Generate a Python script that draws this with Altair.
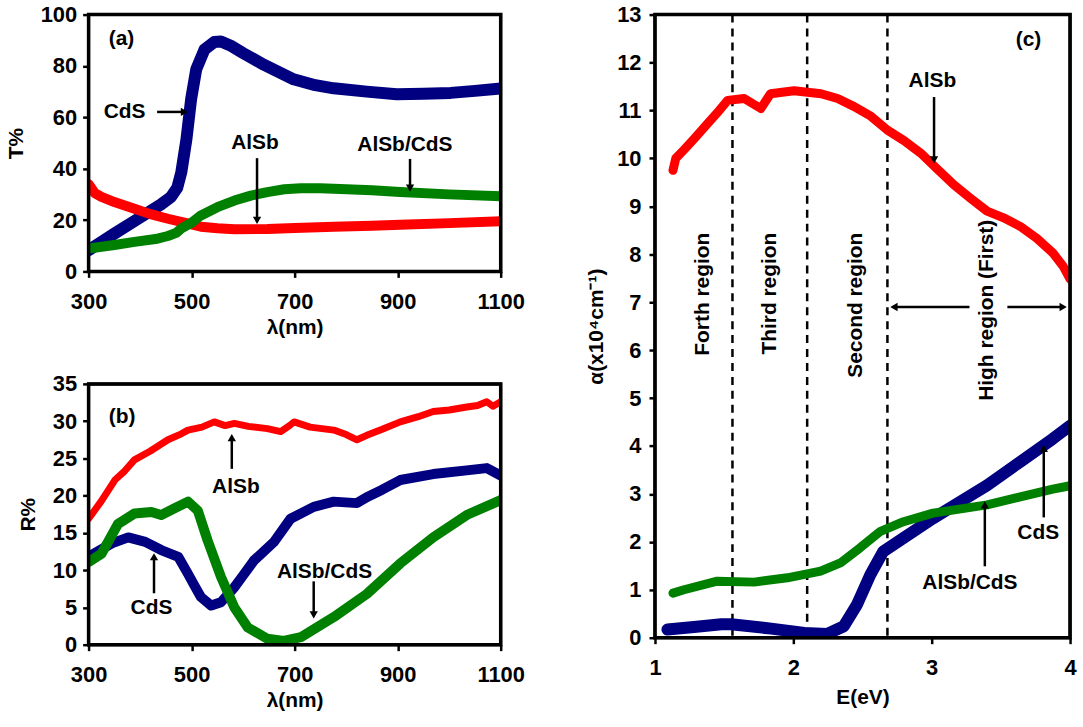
import altair as alt
import pandas as pd

FONT = "Liberation Sans"
BLUE = "#000080"
RED = "#FF0000"
GREEN = "#008000"

# ---------------- panel (a): transmittance T% vs wavelength ----------------
a_cds_lam = [300, 350, 400, 440, 460, 472, 480, 490, 499, 509, 525, 544, 557, 575, 600, 640, 698, 740, 776, 840, 898, 950, 1003, 1050, 1100]
a_cds_T = [8.3, 14.7, 21.0, 26.0, 29.0, 32.5, 38.6, 51.5, 67.0, 78.7, 86.4, 89.3, 89.5, 88.0, 85.0, 80.5, 74.8, 72.5, 71.3, 70.0, 69.0, 69.2, 69.5, 70.3, 71.2]

a_alsb_lam = [300, 312, 325, 350, 389, 420, 454, 490, 518, 550, 583, 647, 700, 776, 850, 905, 1000, 1100]
a_alsb_T = [34.0, 30.5, 29.0, 27.0, 24.4, 22.3, 20.5, 18.8, 17.4, 16.8, 16.4, 16.5, 16.9, 17.4, 17.8, 18.2, 18.8, 19.5]

a_mix_lam = [300, 350, 389, 430, 454, 470, 480, 500, 518, 550, 583, 615, 647, 680, 712, 750, 776, 850, 905, 1000, 1100]
a_mix_T = [8.9, 10.3, 11.5, 12.6, 13.8, 15.0, 16.7, 19.0, 21.8, 25.0, 27.6, 29.5, 30.9, 32.0, 32.4, 32.4, 32.2, 31.6, 30.9, 30.0, 29.3]

a_text_x = [364, 370, 623, 914]
a_text_y = [90.3, 62.1, 50.0, 49.3]
a_text = ["(a)", "CdS", "AlSb", "AlSb/CdS"]
a_arrow_x = [433, 627, 924]
a_arrow_y = [62.1, 44.1, 43.8]
a_arrow_x2 = [486, 627, 924]
a_arrow_y2 = [62.1, 19.9, 32.4]
a_arrow_head = ["triangle-right", "triangle-down", "triangle-down"]

# ---------------- panel (b): reflectance R% vs wavelength ----------------
b_alsb_lam = [300, 325, 351, 370, 389, 420, 454, 480, 493, 520, 544, 565, 583, 610, 647, 673, 690, 699, 730, 776, 800, 821, 840, 870, 905, 940, 969, 1000, 1034, 1055, 1073, 1085, 1100]
b_alsb_R = [16.9, 19.3, 22.1, 23.3, 24.8, 26.0, 27.5, 28.3, 28.8, 29.2, 29.9, 29.4, 29.7, 29.3, 29.0, 28.6, 29.4, 29.9, 29.2, 28.8, 28.2, 27.5, 28.1, 28.9, 29.9, 30.6, 31.3, 31.5, 31.9, 32.1, 32.6, 32.0, 32.6]

b_cds_lam = [300, 345, 377, 410, 441, 474, 493, 505, 518, 538, 557, 583, 600, 621, 660, 692, 737, 776, 821, 840, 870, 905, 969, 1034, 1073, 1100]
b_cds_R = [11.8, 13.6, 14.4, 13.8, 12.7, 11.8, 9.5, 8.0, 6.4, 5.25, 5.7, 7.7, 9.3, 11.3, 13.8, 16.9, 18.5, 19.2, 19.0, 19.8, 20.8, 22.1, 22.9, 23.4, 23.7, 22.7]

b_mix_lam = [300, 325, 357, 389, 422, 441, 467, 493, 512, 531, 557, 583, 609, 647, 679, 712, 776, 840, 905, 969, 1034, 1100]
b_mix_R = [11.1, 12.2, 16.2, 17.6, 17.8, 17.4, 18.3, 19.2, 18.0, 14.0, 9.1, 5.0, 2.3, 0.8, 0.5, 1.0, 3.7, 6.8, 10.9, 14.4, 17.4, 19.4]

b_text_x = [365, 586, 422, 758]
b_text_y = [30.5, 21.1, 4.9, 9.8]
b_text = ["(b)", "AlSb", "CdS", "AlSb/CdS"]
b_arrow_x = [578, 427, 737]
b_arrow_y = [23.6, 6.9, 8.5]
b_arrow_x2 = [578, 427, 737]
b_arrow_y2 = [27.8, 11.8, 4.0]
b_arrow_head = ["triangle-up", "triangle-up", "triangle-down"]

# ---------------- panel (c): absorption coefficient vs photon energy ----------------
c_alsb_E = [1.13, 1.15, 1.21, 1.28, 1.36, 1.45, 1.525, 1.645, 1.765, 1.835, 1.92, 2.005, 2.20, 2.32, 2.44, 2.56, 2.68, 2.80, 2.92, 3.04, 3.16, 3.28, 3.40, 3.52, 3.64, 3.76, 3.875, 3.95, 4.0]
c_alsb_a = [9.75, 10.0, 10.18, 10.4, 10.66, 10.95, 11.21, 11.25, 11.04, 11.35, 11.38, 11.41, 11.35, 11.25, 11.08, 10.88, 10.59, 10.37, 10.11, 9.78, 9.45, 9.17, 8.90, 8.76, 8.58, 8.33, 8.03, 7.75, 7.48]

c_cds_E = [1.09, 1.3, 1.48, 1.55, 1.84, 2.08, 2.245, 2.365, 2.46, 2.556, 2.65, 2.796, 3.01, 3.40, 3.64, 3.875, 4.0]
c_cds_a = [0.17, 0.23, 0.28, 0.28, 0.19, 0.10, 0.08, 0.24, 0.69, 1.31, 1.80, 2.08, 2.49, 3.18, 3.67, 4.15, 4.42]

c_mix_E = [1.13, 1.21, 1.45, 1.717, 1.957, 2.197, 2.34, 2.48, 2.63, 2.796, 3.01, 3.40, 3.64, 3.875, 4.0]
c_mix_a = [0.93, 1.00, 1.18, 1.16, 1.25, 1.39, 1.56, 1.87, 2.22, 2.42, 2.60, 2.77, 2.94, 3.10, 3.17]

c_bounds_E = [1.56, 2.10, 2.68]

c_text_x = [3.70, 3.005, 3.77, 3.276]
c_text_y = [12.46, 11.61, 2.18, 1.14]
c_text = ["(c)", "AlSb", "CdS", "AlSb/CdS"]
c_region_x = [1.345, 1.83, 2.45, 3.40]
c_region_y = [8.45, 8.45, 8.45, 8.72]
c_region = ["Forth region", "Third region", "Second region", "High region (First)"]
c_arrow_x = [3.017, 3.81, 3.384, 3.273, 3.547]
c_arrow_y = [11.28, 2.51, 1.49, 6.9, 6.9]
c_arrow_x2 = [3.017, 3.81, 3.384, 2.727, 3.95]
c_arrow_y2 = [9.97, 3.95, 2.77, 6.9, 6.9]
c_arrow_head = ["triangle-down", "triangle-up", "triangle-up", "triangle-left", "triangle-right"]


def make_axis(title, values, lab_pad, tit_pad):
    return alt.Axis(title=title, values=values, format="d", grid=False, domain=False,
                    ticks=True, tickSize=6, tickWidth=2.5, tickColor="black",
                    labelFont=FONT, labelFontSize=22, labelFontWeight="bold", labelColor="black",
                    labelPadding=lab_pad, labelFlush=False,
                    titleFont=FONT, titleFontSize=21, titleFontWeight="bold", titleColor="black",
                    titlePadding=tit_pad)


def panel(series, xdom, ydom, xaxis, yaxis, tx, ty, tt, ax, ay, ax2, ay2, ah, w, h, extra=None):
    X = alt.X("x:Q", scale=alt.Scale(domain=xdom, nice=False, zero=False), axis=xaxis)
    Y = alt.Y("y:Q", scale=alt.Scale(domain=ydom, nice=False, zero=False), axis=yaxis)
    layers = []
    if extra is not None:
        layers += extra(X, Y)
    for xs, ys, color, sw in series:
        df = pd.DataFrame({"x": xs, "y": ys})
        layers.append(alt.Chart(df).mark_line(color=color, strokeWidth=sw, strokeJoin="round",
                                              strokeCap="round", clip=True).encode(x=X, y=Y))
    arr = pd.DataFrame({"x": ax, "y": ay, "x2": ax2, "y2": ay2})
    layers.append(alt.Chart(arr).mark_rule(color="black", strokeWidth=2.5).encode(
        x=X, y=Y, x2="x2:Q", y2="y2:Q"))
    heads = pd.DataFrame({"x": ax2, "y": ay2, "shape": ah})
    layers.append(alt.Chart(heads).mark_point(filled=True, color="black", opacity=1, size=70).encode(
        x=X, y=Y, shape=alt.Shape("shape:N", scale=None)))
    txt = pd.DataFrame({"x": tx, "y": ty, "t": tt})
    layers.append(alt.Chart(txt).mark_text(font=FONT, fontSize=21, fontWeight="bold", color="black").encode(
        x=X, y=Y, text="t:N"))
    # plot-area frame
    frame = alt.Chart(pd.DataFrame({"f": [0]})).mark_rect(fill=None, stroke="black", strokeWidth=3.5).encode(
        x=alt.value(0), x2=alt.value(w), y=alt.value(0), y2=alt.value(h))
    layers.append(frame)
    return alt.layer(*layers).properties(width=w, height=h)


lam_ticks = [300, 500, 700, 900, 1100]

chart_a = panel(
    [(a_cds_lam, a_cds_T, BLUE, 12), (a_alsb_lam, a_alsb_T, RED, 10), (a_mix_lam, a_mix_T, GREEN, 10)],
    [300, 1100], [0, 100],
    make_axis("λ(nm)", lam_ticks, 14, 4), make_axis("T%", [0, 20, 40, 60, 80, 100], 6, 14),
    a_text_x, a_text_y, a_text, a_arrow_x, a_arrow_y, a_arrow_x2, a_arrow_y2, a_arrow_head, 414, 258)

chart_b = panel(
    [(b_cds_lam, b_cds_R, BLUE, 10), (b_alsb_lam, b_alsb_R, RED, 7), (b_mix_lam, b_mix_R, GREEN, 10)],
    [300, 1100], [0, 35],
    make_axis("λ(nm)", lam_ticks, 14, 4), make_axis("R%", [0, 5, 10, 15, 20, 25, 30, 35], 6, 14),
    b_text_x, b_text_y, b_text, b_arrow_x, b_arrow_y, b_arrow_x2, b_arrow_y2, b_arrow_head, 414, 262)


def c_extra(X, Y):
    bd = pd.DataFrame({"x": c_bounds_E})
    dashed = alt.Chart(bd).mark_rule(color="black", strokeWidth=2.5, strokeDash=[8, 6]).encode(
        x=X, y=alt.value(0), y2=alt.value(626))
    reg = pd.DataFrame({"x": c_region_x, "y": c_region_y, "t": c_region})
    regtxt = alt.Chart(reg).mark_text(font=FONT, fontSize=21, fontWeight="bold", color="black",
                                      angle=270, align="right", baseline="middle").encode(
        x=X, y=Y, text="t:N")
    return [dashed, regtxt]


chart_c = panel(
    [(c_cds_E, c_cds_a, BLUE, 12), (c_alsb_E, c_alsb_a, RED, 9), (c_mix_E, c_mix_a, GREEN, 9)],
    [1, 4], [0, 13],
    make_axis("E(eV)", [1, 2, 3, 4], 14, 8), make_axis("α(x10⁴cm⁻¹)", list(range(0, 14)), 8, 10),
    c_text_x, c_text_y, c_text, c_arrow_x, c_arrow_y, c_arrow_x2, c_arrow_y2, c_arrow_head, 417, 626,
    extra=c_extra)

chart = alt.hconcat(
    alt.vconcat(chart_a, chart_b, spacing=32),
    chart_c, spacing=58,
    padding={"left": 3, "top": 0, "right": 5, "bottom": 5},
    background="white",
).configure_view(stroke="black", strokeWidth=3)

chart.save("out.html", embed_options={"renderer": "svg", "actions": False})
